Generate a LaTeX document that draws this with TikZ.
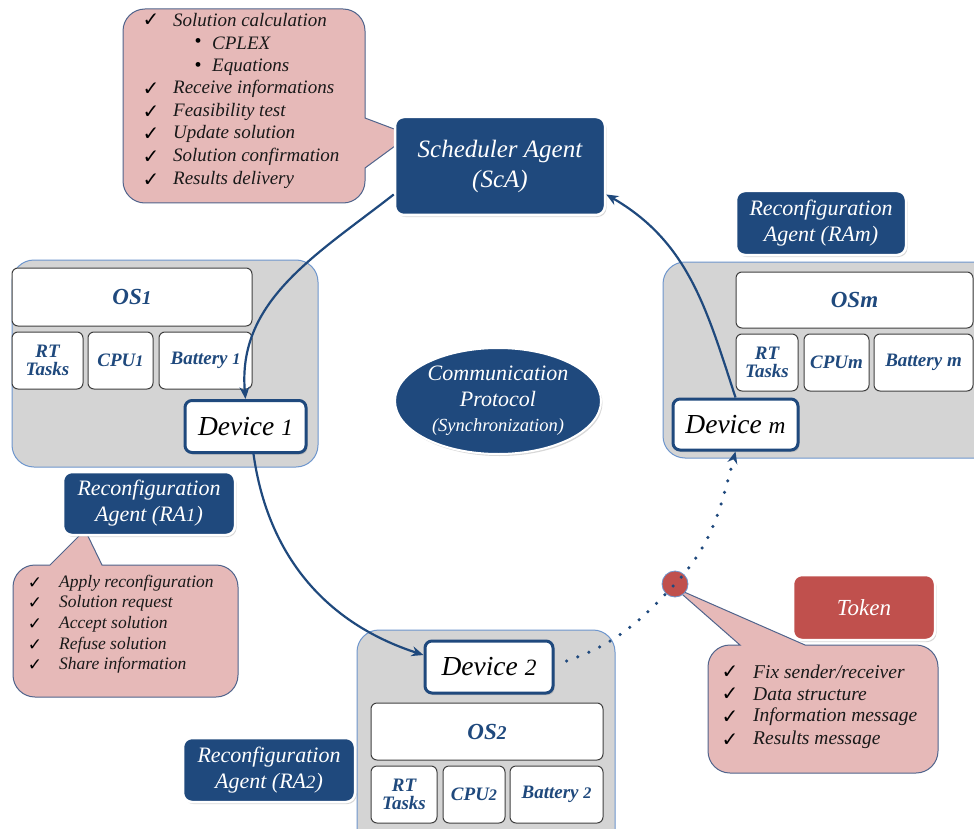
\documentclass[tikz,border=0pt]{standalone}
\usepackage{fontspec}
\setmainfont{Liberation Serif}
\newfontfamily\symfont{DejaVu Sans}
\usetikzlibrary{shadows,arrows.meta,shapes.geometric}
\definecolor{dblue}{RGB}{31,73,125}
\definecolor{pinkb}{RGB}{230,185,184}
\definecolor{grayb}{RGB}{212,212,212}
\definecolor{lblue}{RGB}{110,150,205}
\definecolor{bubbord}{RGB}{80,100,140}
\definecolor{tokred}{RGB}{192,80,77}
\newcommand\onum[1]{\scalebox{0.85}{#1}}
\begin{document}
\begin{tikzpicture}[x=1pt,y=1pt,
  darkbox/.style={rectangle, fill=dblue, draw=white, line width=2.5pt, rounded corners=9pt, text=white, align=center, inner sep=0pt, drop shadow={shadow xshift=1.5pt, shadow yshift=-2pt, opacity=0.3}},
  devbox/.style={rectangle, fill=white, draw=dblue, line width=3pt, rounded corners=7pt, inner sep=0pt, font=\itshape\fontsize{27.5}{30}\selectfont, drop shadow={shadow xshift=1.5pt, shadow yshift=-2pt, opacity=0.3}},
  comp/.style={rectangle, fill=white, draw=black!75, line width=1pt, rounded corners=6pt, inner sep=0pt, text=dblue, align=center, font=\bfseries\itshape\fontsize{19}{18}\selectfont},
  osbox/.style={comp, font=\bfseries\itshape\fontsize{23}{24}\selectfont},
  grayback/.style={fill=grayb, draw=lblue, line width=1pt, rounded corners=22pt},
  bubble/.style={fill=pinkb, draw=bubbord, line width=1pt},
  flow/.style={draw=dblue, line width=2.2pt, -{Stealth[length=12pt,width=10pt]}},
  dotflow/.style={draw=dblue, line width=3.5pt, line cap=round, dash pattern=on 0pt off 12pt, -{Stealth[length=12pt,width=10pt]}},
  chk/.style={inner sep=0pt, font=\symfont\fontsize{20}{20}\selectfont, text=black},
  btext/.style={anchor=west, inner sep=0pt, font=\itshape\fontsize{19}{19}\selectfont, text=black!90},
  stext/.style={btext, font=\itshape\fontsize{17.5}{17.5}\selectfont},
  ttext/.style={btext, font=\itshape\fontsize{19.5}{19.5}\selectfont},
  agfont/.style={font=\itshape\fontsize{22}{26}\selectfont},
]
\useasboundingbox (0,0) rectangle (974,-829);
\clip (0,0) rectangle (974,-829);
\fill[white] (0,0) rectangle (974,-829);

% gray device backgrounds
\draw[grayback] (12,-260) rectangle (318,-467);
\draw[grayback] (663,-262) rectangle (1000,-458);
\draw[grayback] (357,-630) rectangle (615,-860);

% bubbles
\draw[bubble] (145,-9) -- (343,-9) arc[start angle=90,end angle=0,radius=22] -- (365,-118) -- (410,-135) -- (365,-168) -- (365,-181) arc[start angle=0,end angle=-90,radius=22] -- (145,-203) arc[start angle=-90,end angle=-180,radius=22] -- (123,-31) arc[start angle=180,end angle=90,radius=22] -- cycle;
\draw[bubble] (35,-565) -- (50,-565) -- (85,-530) -- (102,-565) -- (216,-565) arc[start angle=90,end angle=0,radius=22] -- (238,-675) arc[start angle=0,end angle=-90,radius=22] -- (35,-697) arc[start angle=-90,end angle=-180,radius=22] -- (13,-587) arc[start angle=180,end angle=90,radius=22] -- cycle;
\draw[bubble] (730,-645) -- (740,-645) -- (675,-588) -- (805,-645) -- (916,-645) arc[start angle=90,end angle=0,radius=22] -- (938,-751) arc[start angle=0,end angle=-90,radius=22] -- (730,-773) arc[start angle=-90,end angle=-180,radius=22] -- (708,-667) arc[start angle=180,end angle=90,radius=22] -- cycle;

% bubble texts: scheduler
\foreach \yy/\tt [count=\i] in {20/Solution calculation, 89/Receive informations, 112/Feasibility test, 134/Update solution, 157/Solution confirmation, 180/Results delivery}{
  \node[chk] (sc\i) at (151,-\yy) {✓};
  \node[btext] (st\i) at (173,-\yy) {\tt};
}
\foreach \yy/\tt [count=\i] in {43/CPLEX, 67/Equations}{
  \node[inner sep=0pt, font=\fontsize{20}{20}\selectfont] (sb\i) at (198,-\yy) {•};
  \node[btext] (sbt\i) at (212,-\yy) {\tt};
}
% RA1 bubble
\foreach \yy/\tt [count=\i] in {583/Apply reconfiguration, 603/Solution request, 624/Accept solution, 645/Refuse solution, 665/Share information}{
  \node[chk, font=\symfont\fontsize{17}{17}\selectfont] (rc\i) at (35,-\yy) {✓};
  \node[stext] (rt\i) at (59,-\yy) {\tt};
}
% token bubble
\foreach \yy/\tt [count=\i] in {672/{Fix sender/receiver}, 694/Data structure, 717/Information message, 740/Results message}{
  \node[chk] (tc\i) at (730,-\yy) {✓};
  \node[ttext] (tt\i) at (753,-\yy) {\tt};
}

% main nodes
\node[darkbox, minimum width=210pt, minimum height=98pt, font=\itshape\fontsize{25}{30}\selectfont] (sca) at (500,-166) {Scheduler Agent\\(ScA)};
\node[darkbox, agfont, minimum width=172pt, minimum height=63pt] (ra1) at (149,-503.5) {Reconfiguration\\Agent (RA\onum{1})};
\node[darkbox, agfont, minimum width=170pt, minimum height=64pt] (ram) at (821,-223) {Reconfiguration\\Agent (RAm)};
\node[darkbox, agfont, minimum width=172pt, minimum height=64pt] (ra2) at (269,-770) {Reconfiguration\\Agent (RA\onum{2})};
\node[darkbox, fill=tokred, minimum width=142pt, minimum height=65pt, font=\itshape\fontsize{23}{24}\selectfont] (tok) at (864,-607.5) {Token};
\node[ellipse, fill=dblue, draw=white, line width=2pt, minimum width=206pt, minimum height=106pt, inner sep=0pt, text=white, align=center, drop shadow={shadow xshift=1.5pt, shadow yshift=-2pt, opacity=0.3}, font=\itshape\fontsize{22}{25.5}\selectfont] (cp) at (498,-401) {Communication\\Protocol\\{\fontsize{18.5}{18.5}\selectfont (Synchronization)}};

% components device 1
\node[osbox, minimum width=240pt, minimum height=58pt] (os1) at (132,-297) {OS\onum{1}};
\node[comp, minimum width=71pt, minimum height=57pt] (rtt1) at (47.5,-360.5) {RT\\Tasks};
\node[comp, minimum width=65pt, minimum height=57pt] (cpu1) at (120.5,-360.5) {CPU\onum{1}};
\node[comp, minimum width=93pt, minimum height=57pt] (bat1) at (205.5,-360.5) {Battery \onum{1}};
% components device m
\node[osbox, minimum width=237pt, minimum height=56pt] (osm) at (854.5,-300) {OSm};
\node[comp, minimum width=62pt, minimum height=57pt] (rttm) at (767,-362.5) {RT\\Tasks};
\node[comp, minimum width=65pt, minimum height=57pt] (cpum) at (836.5,-362.5) {CPUm};
\node[comp, minimum width=99pt, minimum height=57pt] (batm) at (923.5,-362.5) {Battery m};
% components device 2
\node[osbox, minimum width=232pt, minimum height=57pt] (os2) at (487,-731.5) {OS\onum{2}};
\node[comp, minimum width=66pt, minimum height=57pt] (rtt2) at (404,-794.5) {RT\\Tasks};
\node[comp, minimum width=62pt, minimum height=57pt] (cpu2) at (474,-794.5) {CPU\onum{2}};
\node[comp, minimum width=93pt, minimum height=57pt] (bat2) at (556.5,-794.5) {Battery \onum{2}};

% devices
\node[devbox, minimum width=121pt, minimum height=52pt] (dev1) at (245.5,-426.5) {Device \onum{1}};
\node[devbox, minimum width=125pt, minimum height=51pt] (devm) at (735.5,-424.5) {Device \onum{m}};
\node[devbox, minimum width=128pt, minimum height=52pt] (dev2) at (489,-667) {Device \onum{2}};

% token circle
\node[circle, fill=tokred, draw=lblue, line width=0.8pt, minimum size=26pt, inner sep=0pt] (tc) at (675,-584) {};

% connectors
\draw[flow] (sca.195) to[out=218,in=95] (dev1.north);
\draw[flow] ([xshift=8pt]dev1.south) to[out=-82,in=162] ([yshift=12pt]dev2.west);
\draw[dotflow] ([xshift=12pt,yshift=6pt]dev2.east) to[out=19,in=-133] (tc.center) to[out=47,in=-105] (devm.south);
\draw[flow] (devm.north) to[out=108,in=-30] (sca.-15);
\end{tikzpicture}
\end{document}
